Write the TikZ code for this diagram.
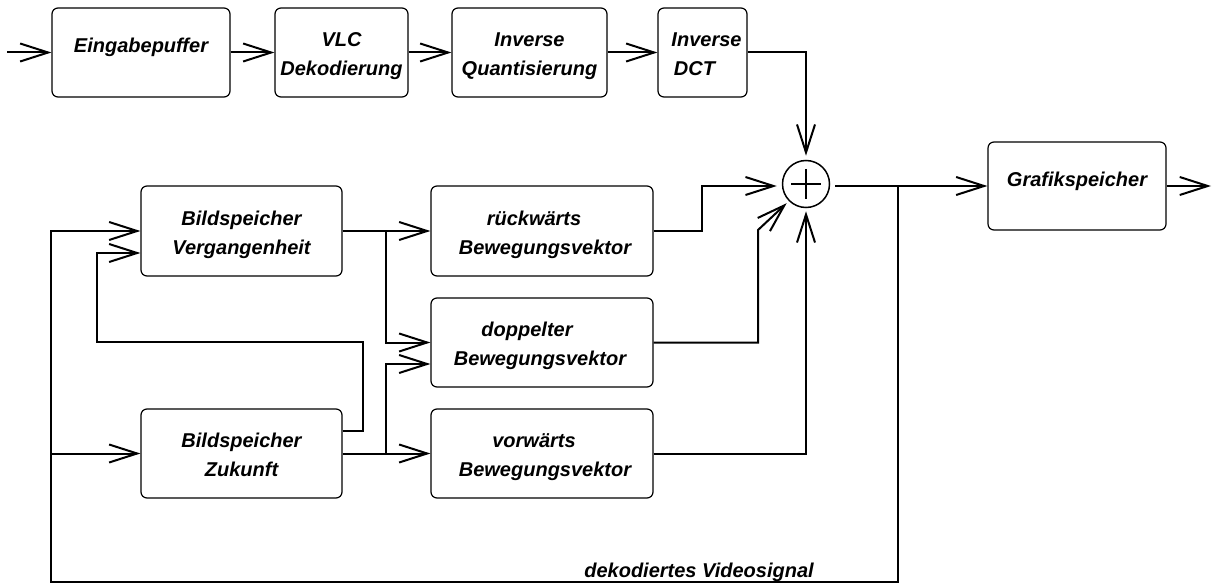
\documentclass[tikz,border=0pt]{standalone}
\usepackage{fontspec}
\setmainfont{Liberation Sans}
\usetikzlibrary{arrows.meta}
\newcommand\twolines[2]{\raisebox{-8pt}[0pt][0pt]{\begin{tabular}{@{}c@{}}#1\\#2\end{tabular}}}
\newcommand\oneline[1]{\raisebox{-0.5pt}[0pt][0pt]{#1}}
\begin{document}
\begin{tikzpicture}[x=1pt,y=-1pt,
  blk/.style={draw,line width=1.2pt,rounded corners=6pt,inner sep=0pt,
    font=\fontsize{20}{29}\selectfont\bfseries\itshape},
  conn/.style={line width=2pt},
  arr/.style={conn,-{Straight Barb[length=28pt,width=18pt,line width=2pt]}},
  lbl/.style={font=\fontsize{20}{24}\selectfont\bfseries\itshape,inner sep=0pt}]
\useasboundingbox (0,0) rectangle (1212,588);
% top row
\node[blk,minimum width=178pt,minimum height=89pt] (eing) at (141,52.5) {\oneline{Eingabepuffer}};
\node[blk,minimum width=133pt,minimum height=89pt] (vlc) at (341.5,52.5) {\twolines{VLC}{Dekodierung}};
\node[blk,minimum width=155pt,minimum height=89pt] (iq) at (529.5,52.5) {\twolines{Inverse}{Quantisierung}};
\node[blk,minimum width=89pt,minimum height=89pt] (idct) at (702.5,52.5) {\twolines{Inverse\hspace*{-8pt}}{DCT\hspace*{16pt}}};
% adder
\node[draw,circle,line width=1.5pt,minimum size=47pt,inner sep=0pt] (add) at (806,184) {};
\draw[line width=1.5pt] ([yshift=15pt]add.center) -- ([yshift=-15pt]add.center)
  ([xshift=-15pt]add.center) -- ([xshift=15pt]add.center);
\node[blk,minimum width=178pt,minimum height=88pt] (gs) at (1077,186) {\oneline{Grafikspeicher}};
% stores
\node[blk,minimum width=201pt,minimum height=90pt] (vg) at (241.5,231) {\twolines{Bildspeicher}{Vergangenheit}};
\node[blk,minimum width=201pt,minimum height=89pt] (zk) at (241.5,453.5) {\twolines{Bildspeicher}{Zukunft}};
% motion vector boxes
\node[blk,minimum width=222pt,minimum height=90pt] (rw) at (542,231) {\twolines{r\"uckw\"arts\hspace*{16pt}}{Bewegungsvektor\hspace*{-6pt}}};
\node[blk,minimum width=222pt,minimum height=89pt] (dp) at (542,342.5) {\twolines{doppelter\hspace*{30pt}}{Bewegungsvektor\hspace*{4pt}}};
\node[blk,minimum width=222pt,minimum height=89pt] (vw) at (542,453.5) {\twolines{vorw\"arts\hspace*{16pt}}{Bewegungsvektor\hspace*{-6pt}}};
% coordinates
\coordinate (in) at (7,52.5);
\coordinate (out) at (1211,186);
\coordinate (j) at (898,186);
\coordinate (br) at (898,582);
\coordinate (bl) at (51,582);
\coordinate (r1) at (702,231);
\coordinate (r2) at (702,186);
\coordinate (d1) at (758,342.5);
\coordinate (d2) at (758,230);
\coordinate (s1) at (386,231);
\coordinate (s2) at (386,453.5);
\coordinate (l1) at (363,431);
\coordinate (l2) at (363,342);
\coordinate (l3) at (97,342);
% top chain
\draw[arr] (in) -- (eing.west);
\draw[arr] (eing.east) -- (vlc.west);
\draw[arr] (vlc.east) -- (iq.west);
\draw[arr] (iq.east) -- (idct.west);
\draw[arr,shorten >=4pt] (idct.east) -| (add.north);
% into adder
\draw[arr,shorten >=5pt] (rw.east) -- (r1) -- (r2) -- (add.west |- r2);
\draw[arr,shorten >=3pt] (dp.east) -- (d1) -- (d2) -- (add.225);
\draw[arr,shorten >=3pt] (vw.east) -| (add.south);
% output
\draw[conn,shorten <=5pt] (add.east |- j) -- (j);
\draw[arr] (j) -- (gs.west);
\draw[arr] (gs.east) -- (out);
% feedback
\draw[arr] (j) -- (br) -- (bl) |- (vg.west);
\draw[arr] (bl |- zk.west) -- (zk.west);
\node[lbl,anchor=base] (sig) at (699,577) {dekodiertes Videosignal};
% stores to vectors
\draw[arr] (vg.east) -- (rw.west);
\draw[arr] (s1) |- (dp.west);
\draw[arr] (zk.east) -- (vw.west);
\draw[arr] (s2) |- ([yshift=-21.5pt]dp.west);
% loop from Zukunft back to Vergangenheit
\draw[arr] ([yshift=22.5pt]zk.east) -- (l1) -- (l2) -- (l3) |- ([yshift=-22pt]vg.west);
\end{tikzpicture}
\end{document}
